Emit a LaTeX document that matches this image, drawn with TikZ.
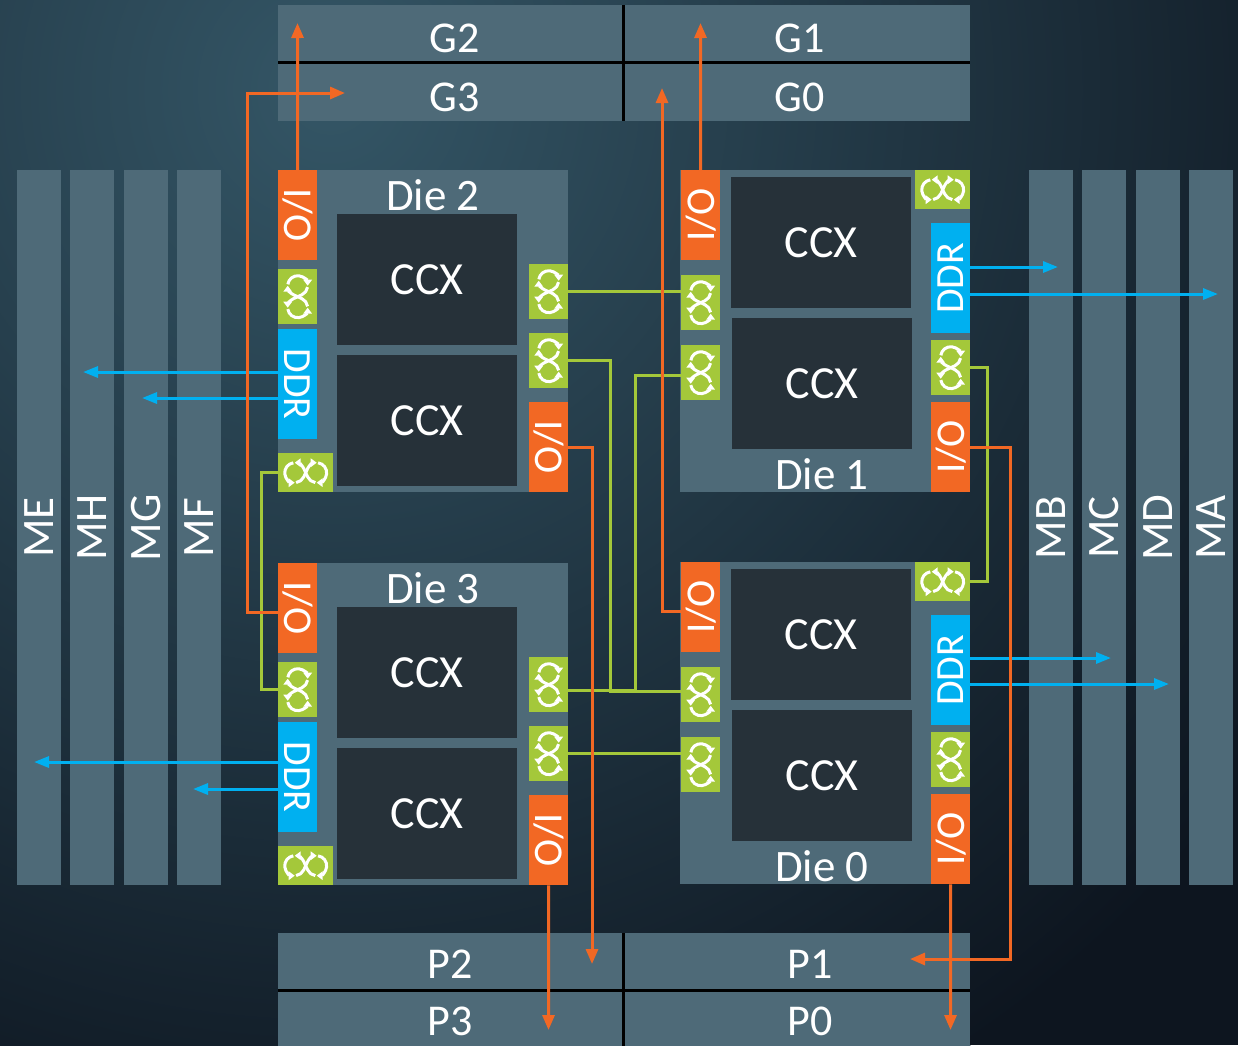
\documentclass[tikz,border=0pt]{standalone}
\usepackage{fontspec}
\setmainfont{Carlito}
\usepackage{graphicx}
\usepackage{xcolor}
\usetikzlibrary{arrows.meta}

\definecolor{bgglow}{RGB}{52,86,102}
\definecolor{bgbot}{RGB}{13,21,31}
\definecolor{blockfill}{RGB}{78,106,120}
\definecolor{ccxfill}{RGB}{38,49,57}
\definecolor{iocol}{RGB}{242,104,36}
\definecolor{ifcol}{RGB}{164,200,58}
\definecolor{ddrcol}{RGB}{0,176,240}

\tikzset{
  blk/.style={fill=blockfill, anchor=north west, inner sep=0pt, text=white},
  membar/.style={blk, minimum width=44pt, minimum height=715pt, font=\fontsize{45}{45}\selectfont},
  gpblk/.style={fill=blockfill, anchor=north west, inner sep=0pt},
  gptext/.style={text=white, inner sep=0pt, font=\fontsize{44}{44}\selectfont},
  diebox/.style={blk, minimum width=290pt, minimum height=322pt},
  dielabel/.style={text=white, inner sep=0pt, font=\fontsize{45}{45}\selectfont},
  ccxbox/.style={fill=ccxfill, anchor=north west, inner sep=0pt, text=white,
    minimum width=180pt, minimum height=131pt, font=\fontsize{46}{46}\selectfont},
  iobox/.style={fill=iocol, anchor=north west, inner sep=0pt, text=white,
    minimum width=39pt, minimum height=90pt, font=\fontsize{41}{41}\selectfont},
  ddrbox/.style={fill=ddrcol, anchor=north west, inner sep=0pt, text=white,
    minimum width=39pt, minimum height=110pt, font=\fontsize{40}{40}\selectfont},
  ifvbox/.style={fill=ifcol, anchor=north west, inner sep=0pt, minimum width=39pt, minimum height=55pt},
  ifhbox/.style={fill=ifcol, anchor=north west, inner sep=0pt, minimum width=55pt, minimum height=39pt},
  divider/.style={draw=black, line width=3pt},
  ioarrow/.style={draw=iocol, line width=3pt, -{Triangle[length=15pt,width=12pt]}},
  ddrarrow/.style={draw=ddrcol, line width=3pt, -{Triangle[length=15pt,width=11pt]}},
  ifline/.style={draw=ifcol, line width=3pt},
  infstroke/.style={draw=white, line width=3pt, -{Triangle[length=6pt,width=8.5pt]}},
  infsym/.pic={
    \draw[infstroke] ([shift={(11,0)}]82:9.97) arc[start angle=82, end angle=-90, radius=9.97];
    \draw[infstroke] ([shift={(11,0)}]-98:9.97) arc[start angle=-98, end angle=-155, radius=9.97]
      -- (-1.965,4.214) arc[start angle=25, end angle=90, radius=9.97];
    \draw[infstroke] ([shift={(-11,0)}]98:9.97) arc[start angle=98, end angle=270, radius=9.97];
    \draw[infstroke] ([shift={(-11,0)}]278:9.97) arc[start angle=278, end angle=335, radius=9.97]
      -- (1.965,4.214) arc[start angle=155, end angle=90, radius=9.97];
  }
}

\begin{document}
\begin{tikzpicture}[x=1pt,y=1pt,yscale=-1]
\useasboundingbox (0,0) rectangle (1238,1045);
\fill[bgbot] (0,0) rectangle (1238,1045);
\shade[inner color=bgglow, outer color=bgbot] (330,90) circle (1150);

% memory channels
\foreach \m/\mx in {ME/17,MH/70,MG/124,MF/177,MB/1029,MC/1082,MD/1136,MA/1189}
  \node[membar] (\m) at (\mx,170) {\rotatebox{90}{\m}};

% G links (top)
\node[gpblk, minimum width=345pt, minimum height=57pt] (g2) at (278,5) {};
\node[gpblk, minimum width=347pt, minimum height=57pt] (g1) at (623,5) {};
\node[gpblk, minimum width=345pt, minimum height=59pt] (g3) at (278,62) {};
\node[gpblk, minimum width=347pt, minimum height=59pt] (g0) at (623,62) {};
\draw[divider] (g2.south west) -- (g1.south east);
\draw[divider] (g2.north east) -- (g3.south east);
\node[gptext] (g2t) at (455,38) {G2};
\node[gptext] (g1t) at (800,38) {G1};
\node[gptext] (g3t) at (455,97) {G3};
\node[gptext] (g0t) at (800,97) {G0};

% P links (bottom)
\node[gpblk, minimum width=345pt, minimum height=57pt] (p2) at (278,933) {};
\node[gpblk, minimum width=347pt, minimum height=57pt] (p1) at (623,933) {};
\node[gpblk, minimum width=345pt, minimum height=60pt] (p3) at (278,990) {};
\node[gpblk, minimum width=347pt, minimum height=60pt] (p0) at (623,990) {};
\draw[divider] (p2.south west) -- (p1.south east);
\draw[divider] (p2.north east) -- (p3.south east);
\node[gptext] (p2t) at (450,964) {P2};
\node[gptext] (p1t) at (810,964) {P1};
\node[gptext] (p3t) at (450,1021) {P3};
\node[gptext] (p0t) at (810,1021) {P0};

% dies 2 and 3
\foreach \d/\oy in {2/170,3/563}{
\begin{scope}[shift={(278,\oy)}]
  \node[diebox] (d\d) at (0,0) {};
  \node[dielabel] (d\d-lbl) at (155,25) {Die \d};
  \node[iobox] (d\d-io1) at (0,0) {\rotatebox{-90}{I/O}};
  \node[ifvbox] (d\d-if1) at (0,99) {};
  \node[ddrbox] (d\d-ddr) at (0,159) {\rotatebox{-90}{DDR}};
  \node[ifhbox] (d\d-if2) at (0,283) {};
  \node[ccxbox] (d\d-ccx1) at (59,44) {CCX};
  \node[ccxbox] (d\d-ccx2) at (59,185) {CCX};
  \node[ifvbox] (d\d-ifr1) at (251,94) {};
  \node[ifvbox] (d\d-ifr2) at (251,163) {};
  \node[iobox] (d\d-io2) at (251,232) {\rotatebox{-90}{I/O}};
\end{scope}
}

% dies 1 and 0
\foreach \d/\oy in {1/170,0/562}{
\begin{scope}[shift={(680,\oy)}]
  \node[diebox] (d\d) at (0,0) {};
  \node[dielabel] (d\d-lbl) at (142,304) {Die \d};
  \node[iobox] (d\d-io1) at (1,0) {\rotatebox{90}{I/O}};
  \node[ifvbox] (d\d-ifl1) at (1,105) {};
  \node[ifvbox] (d\d-ifl2) at (1,175) {};
  \node[ccxbox] (d\d-ccx1) at (51,7) {CCX};
  \node[ccxbox] (d\d-ccx2) at (52,148) {CCX};
  \node[ifhbox] (d\d-ifh) at (235,0) {};
  \node[ddrbox] (d\d-ddr) at (251,53) {\rotatebox{90}{DDR}};
  \node[ifvbox] (d\d-ifr) at (251,170) {};
  \node[iobox] (d\d-io2) at (251,232) {\rotatebox{90}{I/O}};
\end{scope}
}

% infinity fabric symbols
\foreach \n in {d2-if1,d2-ifr1,d2-ifr2,d3-if1,d3-ifr1,d3-ifr2,d1-ifl1,d1-ifl2,d1-ifr,d0-ifl1,d0-ifl2,d0-ifr}
  \pic[rotate=90] at (\n) {infsym};
\foreach \n in {d2-if2,d3-if2,d1-ifh,d0-ifh}
  \pic at (\n) {infsym};

% infinity fabric links
\draw[ifline] (d2-ifr1.east) -- (d2-ifr1.east -| d1-ifl1.west);
\draw[ifline] (d2-ifr2.east) -- ++(42,0) |- ([yshift=-3pt]d0-ifl1.west);
\draw[ifline] ([yshift=3pt]d1-ifl2.west) -- ++(-46,0) |- ([yshift=6pt]d3-ifr1.east);
\draw[ifline] (d3-ifr2.east) -- (d3-ifr2.east -| d0-ifl2.west);
\draw[ifline] (d2-if2.west) -- ++(-17,0) |- (d3-if1.west);
\draw[ifline] (d1-ifr.east) -- ++(17,0) |- (d0-ifh.east);

% memory links
\coordinate (tipMH) at (83,372);
\coordinate (tipMG) at (142,398);
\coordinate (tipME) at (34,762);
\coordinate (tipMF) at (193,789);
\coordinate (tipMB) at (1058,267);
\coordinate (tipMA) at (1218,294);
\coordinate (tipMC) at (1111,658);
\coordinate (tipMD) at (1169,684);
\draw[ddrarrow] (d2-ddr.west |- tipMH) -- (tipMH);
\draw[ddrarrow] (d2-ddr.west |- tipMG) -- (tipMG);
\draw[ddrarrow] (d3-ddr.west |- tipME) -- (tipME);
\draw[ddrarrow] (d3-ddr.west |- tipMF) -- (tipMF);
\draw[ddrarrow] (d1-ddr.east |- tipMB) -- (tipMB);
\draw[ddrarrow] (d1-ddr.east |- tipMA) -- (tipMA);
\draw[ddrarrow] (d0-ddr.east |- tipMC) -- (tipMC);
\draw[ddrarrow] (d0-ddr.east |- tipMD) -- (tipMD);

% I/O links
\coordinate (tipG2) at (297.5,23);
\coordinate (g3turn) at (247,93);
\coordinate (tipG3) at (345,93);
\coordinate (tipG1) at (700.5,23);
\coordinate (tipG0) at (662,88);
\coordinate (tipP2) at (592,964);
\coordinate (tipP3) at (548.5,1030);
\coordinate (p1turn) at (1010,959);
\coordinate (tipP1) at (910,959);
\coordinate (tipP0) at (950.5,1030);
\draw[ioarrow] (d2-io1.north) -- (tipG2);
\draw[ioarrow] ([yshift=4pt]d3-io1.west) -| (g3turn) -- (tipG3);
\draw[ioarrow] (d1-io1.north) -- (tipG1);
\draw[ioarrow] ([yshift=4pt]d0-io1.west) -| (tipG0);
\draw[ioarrow] (d2-io2.east) -| (tipP2);
\draw[ioarrow] (d3-io2.south) -- (tipP3);
\draw[ioarrow] (d1-io2.east) -| (p1turn) -- (tipP1);
\draw[ioarrow] (d0-io2.south) -- (tipP0);

\end{tikzpicture}
\end{document}
